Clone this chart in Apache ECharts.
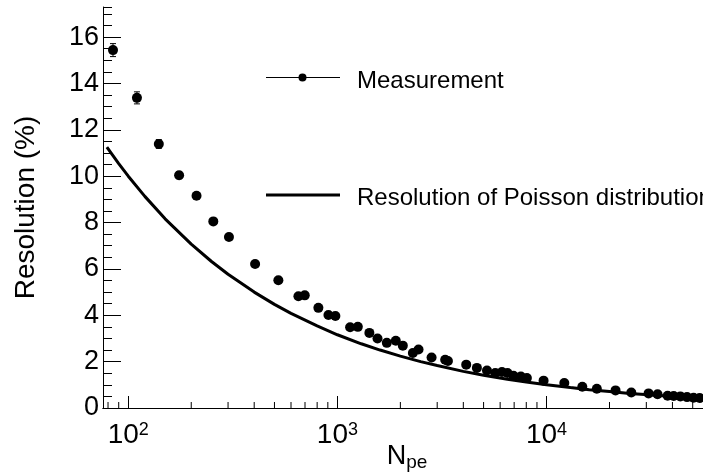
<!DOCTYPE html>
<html>
<head>
<meta charset="utf-8">
<script src="https://cdn.jsdelivr.net/npm/echarts@6/dist/echarts.min.js"></script>
<style>
	html, body { margin: 0; padding: 0; background: #fff; }
	#chart { width: 703px; height: 475px; }
</style>
</head>
<body>
<div id="chart"></div>
<script>
	// measured points: N_pe, resolution (%), error (%)
	let measN = [84.5, 110, 140, 175, 212, 255, 303, 404, 522, 651, 698, 811, 906, 978, 1150, 1252, 1422, 1555, 1723, 1902,
		2055, 2295, 2443, 2820, 3276, 3376, 4130, 4645, 5190, 5685, 6120, 6507, 6953, 7540, 8055, 9680, 12160, 14830,
		17400, 21380, 25430, 30760, 33960, 37930, 40550, 43650, 46980, 50490, 53960]
	let measRes = [15.44, 13.38, 11.39, 10.04, 9.16, 8.05, 7.38, 6.21, 5.51, 4.82, 4.86, 4.32, 4.01, 3.97, 3.48, 3.50, 3.24, 3.00, 2.81, 2.90,
		2.69, 2.37, 2.52, 2.18, 2.08, 2.03, 1.87, 1.73, 1.62, 1.51, 1.55, 1.51, 1.39, 1.36, 1.29, 1.18, 1.08, 0.92,
		0.83, 0.76, 0.67, 0.63, 0.59, 0.53, 0.52, 0.50, 0.47, 0.44, 0.43]
	let measErr = [0.28, 0.26, 0.19, 0.15, 0.13, 0.11, 0.1, 0.09, 0.08, 0.08, 0.08, 0.07, 0.07, 0.07, 0.06, 0.06, 0.06, 0.06, 0.05, 0.05,
		0.05, 0.05, 0.05, 0.05, 0.04, 0.04, 0.04, 0.04, 0.04, 0.04, 0.04, 0.04, 0.03, 0.03, 0.03, 0.03, 0.03, 0.03,
		0.03, 0.02, 0.02, 0.02, 0.02, 0.02, 0.02, 0.02, 0.02, 0.02, 0.02]

	// poisson resolution curve
	let poisN = [79, 90, 100, 120, 150, 200, 250, 300, 400, 500, 600, 800, 1000, 1300, 1600, 2000, 2500, 3000,
		4000, 5000, 6500, 8000, 10000, 13000, 16000, 20000, 25000, 32000, 40000, 50000, 57000]
	let poisRes = [11.25, 10.54, 10.0, 9.13, 8.16, 7.07, 6.32, 5.77, 5.0, 4.47, 4.08, 3.54, 3.16, 2.77, 2.50, 2.24, 2.00, 1.83,
		1.58, 1.41, 1.24, 1.12, 1.0, 0.88, 0.79, 0.71, 0.63, 0.56, 0.50, 0.45, 0.42]

	// minor ticks of the log axis
	let xMinorTicks = [80, 90, 200, 300, 400, 500, 600, 700, 800, 900, 2000, 3000, 4000, 5000, 6000, 7000, 8000, 9000,
		20000, 30000, 40000, 50000]

	let legendNames = ['Measurement', 'Resolution of Poisson distribution']

	let font = 'Liberation Sans, Arial, Helvetica, sans-serif'
	let chart = echarts.init(document.getElementById('chart'))

	let measData = []
	for (let i = 0; i < measN.length; i++) {
		measData.push([measN[i], measRes[i], measErr[i]])
	}
	let poisData = []
	for (let i = 0; i < poisN.length; i++) {
		poisData.push([poisN[i], poisRes[i]])
	}

	let option = {
		animation: false,
		backgroundColor: '#fff',
		grid: {
			left: 103,
			top: 7,
			right: 0,
			bottom: 67,
			containLabel: false,
			outerBoundsMode: 'none'
		},
		xAxis: [{
				type: 'log',
				logBase: 10,
				min: 75.7,
				max: 56000,
				name: '{n|N}{sub|pe}',
				nameLocation: 'middle',
				nameGap: 34,
				nameMoveOverlap: false,
				nameTextStyle: {
					color: '#000',
					fontFamily: font,
					padding: [0, 0, 0, 8],
					rich: {
						n: { fontSize: 27, lineHeight: 30, fontFamily: font, color: '#000' },
						sub: { fontSize: 19, lineHeight: 20, verticalAlign: 'bottom', fontFamily: font, color: '#000' }
					}
				},
				axisLine: { lineStyle: { color: '#000', width: 1 } },
				axisTick: { inside: true, length: 12, lineStyle: { color: '#000' } },
				splitLine: { show: false },
				axisLabel: {
					margin: 13,
					color: '#000',
					formatter: function(v) {
						let p = Math.log10(v)
						if (Math.abs(p - Math.round(p)) < 1e-6) {
							return '{b|10}{s|' + Math.round(p) + '}'
						}
						return ''
					},
					rich: {
						b: { fontSize: 28, lineHeight: 30, verticalAlign: 'top', fontFamily: font, color: '#000' },
						s: { fontSize: 18, lineHeight: 18, verticalAlign: 'top', fontFamily: font, color: '#000' }
					}
				}
			},
			{
				// top frame line
				type: 'value',
				position: 'top',
				min: 0,
				max: 1,
				axisLine: { lineStyle: { color: '#000', width: 1 } },
				axisTick: { show: false },
				axisLabel: { show: false },
				splitLine: { show: false }
			}
		],
		yAxis: [{
				type: 'value',
				min: 0,
				max: 17.3,
				interval: 2,
				name: 'Resolution (%)',
				nameLocation: 'middle',
				nameGap: 63,
				nameMoveOverlap: false,
				nameRotate: 90,
				nameTextStyle: { color: '#000', fontSize: 28, fontFamily: font },
				axisLine: { show: true, lineStyle: { color: '#000', width: 1 } },
				axisTick: { inside: true, length: 18, lineStyle: { color: '#000' } },
				splitLine: { show: false },
				axisLabel: {
					margin: 4,
					color: '#000',
					fontSize: 27,
					fontFamily: font,
					padding: [8, 0, 0, 0],
					showMaxLabel: false
				}
			},
			{
				// minor ticks
				type: 'value',
				position: 'left',
				min: 0,
				max: 17.3,
				interval: 0.5,
				axisLine: { show: false },
				axisTick: { inside: true, length: 9, lineStyle: { color: '#000' } },
				axisLabel: { show: false },
				splitLine: { show: false }
			}
		],
		series: [{
				name: 'xminor',
				type: 'custom',
				silent: true,
				data: xMinorTicks.map(v => [v]),
				encode: { x: 0 },
				renderItem: function(params, api) {
					let p = api.coord([api.value(0), 0])
					return {
						type: 'line',
						shape: { x1: p[0], y1: p[1], x2: p[0], y2: p[1] - 6 },
						style: { stroke: '#000', lineWidth: 1 }
					}
				}
			},
			{
				name: 'errors',
				type: 'custom',
				silent: true,
				data: measData,
				encode: { x: 0, y: 1 },
				renderItem: function(params, api) {
					let x = api.value(0),
						y = api.value(1),
						e = api.value(2)
					let t = api.coord([x, y + e])
					let b = api.coord([x, y - e])
					let st = { stroke: '#000', lineWidth: 1 }
					return {
						type: 'group',
						children: [
							{ type: 'line', shape: { x1: t[0], y1: t[1], x2: b[0], y2: b[1] }, style: st },
							{ type: 'line', shape: { x1: t[0] - 3, y1: t[1], x2: t[0] + 3, y2: t[1] }, style: st },
							{ type: 'line', shape: { x1: b[0] - 3, y1: b[1], x2: b[0] + 3, y2: b[1] }, style: st }
						]
					}
				}
			},
			{
				name: legendNames[1],
				type: 'line',
				data: poisData,
				showSymbol: false,
				lineStyle: { color: '#000', width: 3 },
				z: 3
			},
			{
				name: legendNames[0],
				type: 'scatter',
				data: measData,
				symbol: 'circle',
				symbolSize: 10,
				itemStyle: { color: '#000', opacity: 1 },
				z: 4
			}
		],
		graphic: [
			{ type: 'line', shape: { x1: 266, y1: 77.5, x2: 340, y2: 77.5 }, style: { stroke: '#000', lineWidth: 1 } },
			{ type: 'circle', shape: { cx: 302.5, cy: 77.5, r: 4 }, style: { fill: '#000' } },
			{ type: 'text', x: 357, y: 81, style: { text: legendNames[0], fill: '#000', font: '24px ' + font, verticalAlign: 'middle' } },
			{ type: 'line', shape: { x1: 266, y1: 195, x2: 340, y2: 195 }, style: { stroke: '#000', lineWidth: 3 } },
			{ type: 'text', x: 357, y: 198, style: { text: legendNames[1], fill: '#000', font: '24px ' + font, verticalAlign: 'middle' } }
		]
	}

	chart.setOption(option)
</script>
</body>
</html>
